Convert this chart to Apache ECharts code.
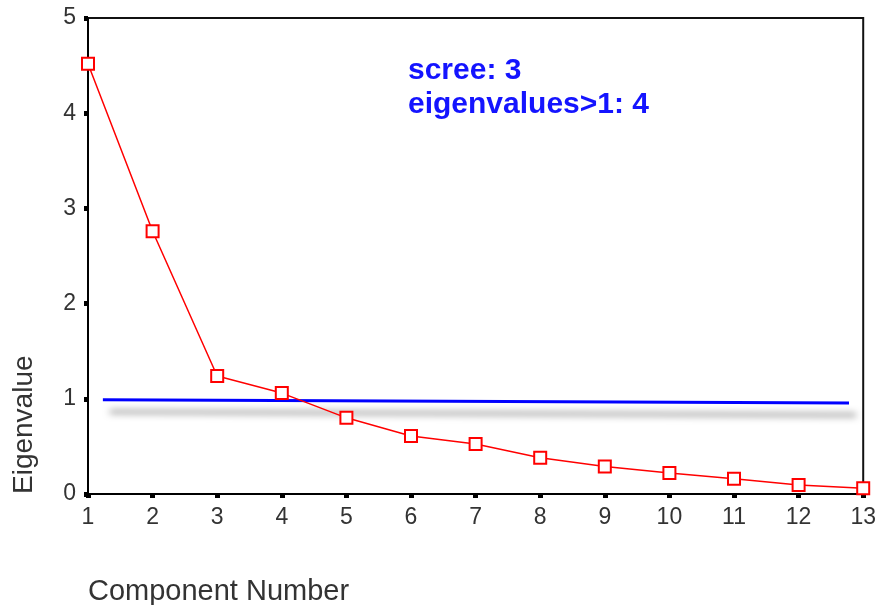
<!DOCTYPE html>
<html><head><meta charset="utf-8">
<script src="https://cdn.jsdelivr.net/npm/echarts@6/dist/echarts.min.js"></script>
<style>html,body{margin:0;padding:0;background:#fff}#c{width:879px;height:605px}</style>
</head><body><div id="c"></div>
<script>
const components = [1,2,3,4,5,6,7,8,9,10,11,12,13];
const eigenvalues = [4.52,2.76,1.24,1.06,0.80,0.61,0.525,0.38,0.29,0.22,0.16,0.095,0.06];
const refLineX = [1.23, 12.78];
const refLineY = [0.99, 0.955];
const annotations = ['scree: 3', 'eigenvalues>1: 4'];
const xTitle = 'Component Number';
const yTitle = 'Eigenvalue';

const FONT = '"Liberation Sans", Arial, sans-serif';
const chart = echarts.init(document.getElementById('c'));
chart.setOption({
  animation:false,
  grid:{left:88,right:15,top:18,bottom:111,show:true,borderColor:'#111',borderWidth:2,backgroundColor:'transparent'},
  xAxis:{type:'value',min:1,max:13,interval:1,
    axisLine:{show:true,lineStyle:{color:'#000',width:2}},
    axisTick:{show:true,length:4,lineStyle:{color:'#000',width:5}},
    axisLabel:{color:'#333',fontSize:23,fontFamily:FONT,margin:12},
    splitLine:{show:false}},
  yAxis:{type:'value',min:0,max:5,interval:1,
    axisLine:{show:true,lineStyle:{color:'#000',width:2}},
    axisTick:{show:true,length:4,lineStyle:{color:'#000',width:5}},
    axisLabel:{color:'#333',fontSize:23,fontFamily:FONT,margin:12},
    splitLine:{show:false}},
  series:[
    {type:'line',data:refLineX.map((x,i)=>[x,refLineY[i]]),symbol:'none',
     lineStyle:{color:'#0000ff',width:3,shadowColor:'rgba(0,0,0,0.5)',shadowBlur:7,shadowOffsetX:7,shadowOffsetY:12},z:2},
    {type:'line',data:components.map((c,i)=>[c,eigenvalues[i]]),symbol:'emptyRect',symbolSize:12,
     lineStyle:{color:'#ff0000',width:1.5},itemStyle:{color:'#ff0000',borderColor:'#ff0000',borderWidth:1.6},z:3}
  ],
  graphic:[
    {type:'text',left:408,top:56,style:{text:annotations[0],fill:'#1414ff',font:'bold 30px '+FONT}},
    {type:'text',left:408,top:90,style:{text:annotations[1],fill:'#1414ff',font:'bold 30px '+FONT}},
    {type:'text',left:88,top:577,style:{text:xTitle,fill:'#333',font:'29px '+FONT}},
    {type:'text',x:24,y:494,rotation:Math.PI/2,style:{text:yTitle,fill:'#333',font:'28px '+FONT,align:'left',verticalAlign:'middle'}}
  ]
});
</script></body></html>
